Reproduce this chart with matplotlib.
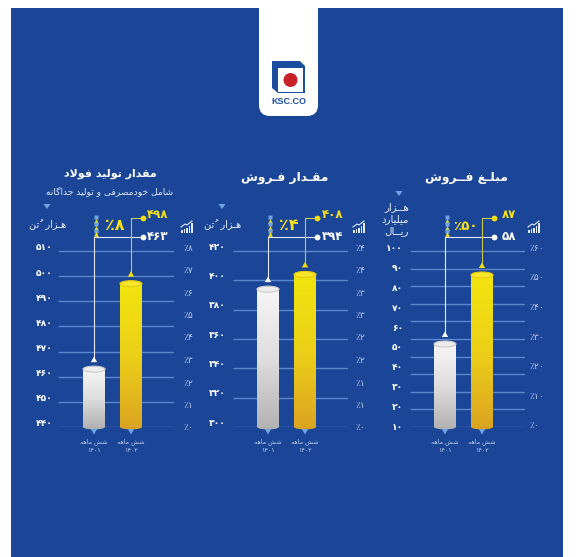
import unicodedata
import numpy as np
import matplotlib
matplotlib.use("Agg")
import matplotlib.pyplot as plt
from matplotlib.patches import Rectangle, Ellipse, FancyBboxPatch, Polygon, Circle
from matplotlib.transforms import ScaledTranslation
from matplotlib.colors import LinearSegmentedColormap

# ---------- data ----------
periods = ["۱۴۰۱", "۱۴۰۲"]
period_prefix = "شش ماهه"

titles = ["مبلـغ فــروش", "مقـدار فـروش", "مقدار تولید فولاد"]
subtitle_steel = "شامل خودمصرفی و تولید جداگانه"
units = [["هــزار", "میلیارد", "ریــال"], ["هـزار  تُن"], ["هـزار  تُن"]]

# bar heights as read against each drawn axis
sales_value_bars = [51.5, 86]
sales_qty_bars = [394, 404]
steel_bars = [463, 497]

value_labels = [["۵۸", "۸۷"], ["۳۹۴", "۴۰۸"], ["۴۶۳", "۴۹۸"]]
growth_labels = ["٪۵۰", "٪۴", "٪۸"]

sales_value_ticks = [10, 20, 30, 40, 50, 60, 70, 80, 90, 100]
sales_value_ticklabels = ["۱۰", "۲۰", "۳۰", "۴۰", "۵۰", "۶۰", "۷۰", "۸۰", "۹۰", "۱۰۰"]
sales_value_grid = [10, 18.8, 27.6, 36.4, 45.2, 54, 62.8, 71.6, 80.4, 89.2, 98]
sales_value_pct = [0, 10, 20, 30, 40, 50, 60]
sales_value_pctlabels = ["٪۰", "٪۱۰", "٪۲۰", "٪۳۰", "٪۴۰", "٪۵۰", "٪۶۰"]

sales_qty_ticks = [300, 320, 340, 360, 380, 400, 420]
sales_qty_ticklabels = ["۳۰۰", "۳۲۰", "۳۴۰", "۳۶۰", "۳۸۰", "۴۰۰", "۴۲۰"]
sales_qty_pct = [0, 0.5, 1, 1.5, 2, 2.5, 3, 3.5, 4]
sales_qty_pctlabels = ["٪۰", "٪۱", "٪۱", "٪۲", "٪۲", "٪۳", "٪۳", "٪۴", "٪۴"]

steel_ticks = [440, 450, 460, 470, 480, 490, 500, 510]
steel_ticklabels = ["۴۴۰", "۴۵۰", "۴۶۰", "۴۷۰", "۴۸۰", "۴۹۰", "۵۰۰", "۵۱۰"]
steel_pct = [0, 1, 2, 3, 4, 5, 6, 7, 8]
steel_pctlabels = ["٪۰", "٪۱", "٪۲", "٪۳", "٪۴", "٪۵", "٪۶", "٪۷", "٪۸"]

# ---------- styles ----------
W, H = 578, 557
BLUE = "#1b4698"
GRID = "#5c86cb"
YEL = "#f4e21c"
TRI = "#6fa4e2"
plt.rcParams["font.family"] = "DejaVu Sans"

RIGHT_JOIN = set("اآدذرزژو")


def fa(text):
    """Shape Persian text into presentation forms in visual order."""
    def joins(c):
        return (unicodedata.category(c) == "Lo" and "ARABIC" in unicodedata.name(c, "")) or c == "ـ"

    base, marks = [], {}
    for c in text:
        if unicodedata.combining(c):
            marks[len(base) - 1] = c
        else:
            base.append(c)
    out = []
    i, n = 0, len(base)
    while i < n:
        c = base[i]
        mark = marks.get(i, "")
        if not joins(c) or c == "ـ":
            out.append(c + mark)
            i += 1
            continue
        prev = base[i - 1] if i > 0 else " "
        nxt = base[i + 1] if i + 1 < n else " "
        jp = joins(prev) and prev not in RIGHT_JOIN
        if c == "ل" and nxt == "ا":
            out.append("\ufefc" if jp else "\ufefb")
            i += 2
            continue
        jn = joins(nxt) and c not in RIGHT_JOIN
        form = "MEDIAL" if jp and jn else "FINAL" if jp else "INITIAL" if jn else "ISOLATED"
        try:
            out.append(unicodedata.lookup(f"{unicodedata.name(c)} {form} FORM") + mark)
        except KeyError:
            out.append(c + mark)
        i += 1
    return "".join(reversed(out))


fig = plt.figure(figsize=(W / 100, H / 100), dpi=100, facecolor="white")


def overlay(z):
    a = fig.add_axes([0, 0, 1, 1], zorder=z)
    a.set_xlim(0, W)
    a.set_ylim(H, 0)
    a.axis("off")
    return a


bg = overlay(0)
bg.add_patch(Rectangle((11, 8), 552, 549, fc=BLUE, ec="none"))
fg = overlay(10)

# logo tab
fg.add_patch(FancyBboxPatch((259, -40), 59, 156, boxstyle="round,pad=0,rounding_size=11",
                            fc="white", ec="none"))
fg.add_patch(Rectangle((240, 0), 100, 8, fc="white", ec="none"))
fg.add_patch(Polygon([(272, 61), (300, 61), (305, 66), (305, 93), (278, 93), (272, 88)],
                     fc="#1b4e9e", ec="none"))
fg.add_patch(Rectangle((278, 68), 25, 24, fc="white", ec="none"))
fg.add_patch(Circle((290.5, 80), 7, fc="#c8202a", ec="none"))
fg.text(289, 101.5, "KSC.CO", color="#1b4e9e", fontsize=6.5, fontweight="bold",
        ha="center", va="center", family="Liberation Sans")

panels = [
    dict(x0=410, x1=525, c0=445, c1=482, bars=sales_value_bars, ticks=sales_value_ticks,
         ticklabels=sales_value_ticklabels, grid=sales_value_grid, pct=sales_value_pct,
         pctlabels=sales_value_pctlabels, y0=10, ppu=2.0, pct0=425, pctppu=178 / 60,
         shift=0, lpad=5, rpad=3, tgap=8, gr=4, tcx=466, tcy=178, gsize=9.6, tsize=8.8),
    dict(x0=233, x1=348, c0=268, c1=305, bars=sales_qty_bars, ticks=sales_qty_ticks,
         ticklabels=sales_qty_ticklabels, grid=sales_qty_ticks, pct=sales_qty_pct,
         pctlabels=sales_qty_pctlabels, y0=300, ppu=176 / 120, pct0=427, pctppu=180 / 4,
         shift=5, lpad=5, rpad=5, tgap=5, gr=7, tcx=285, tcy=178, gsize=11.5, tsize=8.8),
    dict(x0=58, x1=174, c0=94, c1=131, bars=steel_bars, ticks=steel_ticks,
         ticklabels=steel_ticklabels, grid=steel_ticks, pct=steel_pct,
         pctlabels=steel_pctlabels, y0=440, ppu=176 / 70, pct0=427, pctppu=180 / 8,
         shift=4, lpad=4, rpad=7, tgap=4, gr=7, tcx=110, tcy=174, gsize=11.5, tsize=7.9),
]

BOTTOM, TOP = 427, 238
yellow_cm = LinearSegmentedColormap.from_list("y", ["#f2e40f", "#ecd018", "#dca522"])
white_cm = LinearSegmentedColormap.from_list("w", ["#f6f6f6", "#dedede", "#b4b4b4"])

for idx, (p, title, unit, vals, growth) in enumerate(zip(panels, titles, units, value_labels, growth_labels)):
    pos = [p["x0"] / W, 1 - BOTTOM / H, (p["x1"] - p["x0"]) / W, (BOTTOM - TOP) / H]
    ax = fig.add_axes(pos, zorder=5)
    ax.patch.set_visible(False)
    step = p["c1"] - p["c0"]
    xlim = ((p["x0"] - p["c0"]) / step, (p["x1"] - p["c0"]) / step)
    ylim = (p["y0"], p["y0"] + (BOTTOM - TOP) / p["ppu"])
    bw = 22 / step
    ax.hlines(p["grid"], xlim[0], xlim[1], color=GRID, lw=1.0, zorder=1)
    rects = ax.bar([0, 1], np.array(p["bars"]) - p["y0"], bottom=p["y0"], width=bw,
                   color=["#dddddd", "#ecd018"], zorder=2)
    e_h = 6 / p["ppu"]
    for rect, cm, bot_c, top_c, rim in zip(rects, [white_cm, yellow_cm], ["#b0b0b0", "#d9a020"],
                                           ["#eeeeee", "#f7e62a"], ["#c9c9c9", "#e6c80a"]):
        x, w, h = rect.get_x(), rect.get_width(), rect.get_height()
        ax.add_patch(Ellipse((x + w / 2, p["y0"]), w, e_h * 0.8, fc=bot_c, ec="none", zorder=2,
                             clip_on=False))
        g = np.linspace(0, 1, 128)[:, None]
        ax.imshow(g, cmap=cm, extent=[x, x + w, p["y0"], p["y0"] + h], aspect="auto",
                  origin="upper", zorder=3, interpolation="bilinear")
        ax.add_patch(Ellipse((x + w / 2, p["y0"] + h), w, e_h, fc=top_c, ec=rim, lw=0.8, zorder=4,
                             clip_on=False))
    ax.set_xlim(*xlim)
    ax.set_ylim(*ylim)
    ax.set_xticks([0, 1])
    ax.set_xticklabels([fa(period_prefix) + "\n" + d for d in periods], fontsize=4.6,
                       color="#c3d3ee", linespacing=1.8)
    ax.tick_params(axis="x", length=0, pad=8)
    ax.set_yticks(p["ticks"])
    ax.set_yticklabels(p["ticklabels"], fontsize=6.6, color="white", fontweight="bold")
    ax.tick_params(axis="y", length=0, pad=p["lpad"])
    off = ScaledTranslation(0, p["shift"] / 100, fig.dpi_scale_trans)
    for lab in ax.get_yticklabels():
        lab.set_transform(lab.get_transform() + off)
    for s in ax.spines.values():
        s.set_visible(False)

    tw = ax.twinx()
    tw.patch.set_visible(False)
    # percent scale keeps its own pixel mapping
    lo = (p["pct0"] - BOTTOM) / p["pctppu"]
    tw.set_ylim(lo, lo + (BOTTOM - TOP) / p["pctppu"])
    tw.set_yticks(p["pct"])
    tw.set_yticklabels(p["pctlabels"], fontsize=6.6, color="#b9cbea")
    tw.tick_params(axis="y", length=0, pad=p["rpad"])
    for s in tw.spines.values():
        s.set_visible(False)

    def to_px(x, y):
        return fg.transData.inverted().transform(ax.transData.transform((x, y)))

    # connectors and callouts
    dot_x = p["c1"] + 12
    for i, (ly, col, tcol) in enumerate([(237, "#e4e9f3", "white"), (218, "#c9c84a", YEL)]):
        bx, by = to_px(i, p["bars"][i])
        dc = "white" if i == 0 else "#f3dc12"
        fg.plot([dot_x, bx, bx], [ly, ly, by - 11], color=col, lw=0.8, zorder=2)
        fg.plot([dot_x], [ly], "o", ms=4.2, color=dc, mec="none", zorder=3)
        fg.add_patch(Polygon([(bx - 3.2, by - 7), (bx + 3.2, by - 7), (bx, by - 12.5)],
                             fc=dc, ec="none", zorder=3))
        fg.text(dot_x + p["tgap"], ly - (3 if i == 1 else 1), vals[i], color=tcol, fontsize=8.5,
                fontweight="bold", ha="left", va="center")
        fg.add_patch(Polygon([(bx - 3.2, 429), (bx + 3.2, 429), (bx, 434.5)], fc=TRI, ec="none"))

    # growth text, dotted column
    wx, _ = to_px(0, p["bars"][0])
    fg.text(p["c1"] - p["gr"], 226, growth, color=YEL, fontsize=p["gsize"], fontweight="bold",
            ha="right", va="center")
    sx = wx + 1.5
    for k, yy in enumerate([217, 220.5, 224, 227.5, 231, 234]):
        fg.plot([sx], [yy], "^" if k % 2 else "s", ms=3.4 if k % 2 else 2.6,
                color=YEL if k % 2 else TRI, mec="none", zorder=3)

    # trend icon
    ix = p["x1"] + p["rpad"]
    for k, hh in enumerate([3, 4, 5, 7, 10]):
        fg.add_patch(Rectangle((ix + k * 2.5, 233 - hh), 1.6, hh, fc="#e3ebf8", ec="none"))
    fg.plot([ix, ix + 4, ix + 6, ix + 11], [227, 224, 225, 221], color="#e3ebf8", lw=0.8)

    # unit caption
    ux = p["x0"] - 11
    if len(unit) == 3:
        fg.add_patch(Polygon([(ux - 3.5, 191), (ux + 3.5, 191), (ux, 196)], fc=TRI, ec="none"))
        for line, yy in zip(unit, [207, 219, 231]):
            fg.text(p["x0"] - 1, yy, fa(line), color="#e6ecf7", fontsize=7.4, ha="right", va="center")
    else:
        fg.add_patch(Polygon([(ux - 3.5, 204), (ux + 3.5, 204), (ux, 209)], fc=TRI, ec="none"))
        fg.text(ux + 1, 225, fa(unit[0]), color="#e6ecf7", fontsize=7, ha="center", va="center")

    # title
    fg.text(p["tcx"], p["tcy"], fa(title), color="white", fontsize=p["tsize"], fontweight="bold",
            ha="center", va="center")
    if idx == 2:
        fg.text(p["tcx"], 191, fa(subtitle_steel), color="#dfe7f5", fontsize=6.6,
                ha="center", va="center")

fig.savefig("out.png", dpi=100, facecolor="white")
